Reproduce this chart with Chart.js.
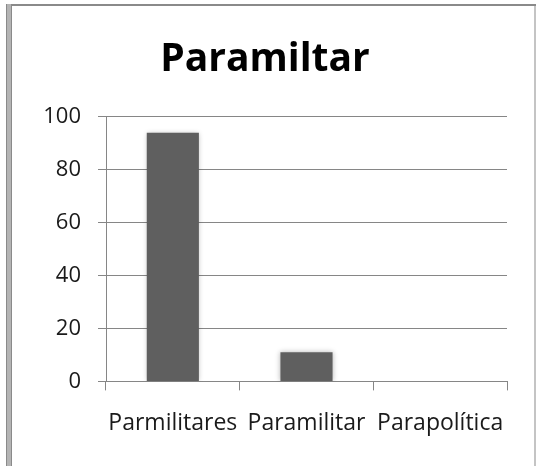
<!DOCTYPE html>
<html>
<head>
<meta charset="utf-8">
<script src="https://cdn.jsdelivr.net/npm/chart.js@4/dist/chart.umd.min.js"></script>
<style>
  html, body { margin: 0; padding: 0; background: #fff; }
  #wrap { position: relative; width: 537px; height: 466px; overflow: hidden; }
  #chart { position: absolute; left: 0; top: 0; }
  .edge-top { position: absolute; left: 6px; top: 4px; width: 530px; height: 2px; background: #8a8a8a; }
  .edge-left { position: absolute; left: 6px; top: 4px; width: 4px; height: 462px;
               border-left: 1px solid #8a8a8a; border-right: 1px solid #8a8a8a; background: #b4b4b4; }
  .edge-right { position: absolute; left: 534px; top: 6px; width: 2px; height: 460px; background: #c4c4c4; }
</style>
</head>
<body>
<div id="wrap">
  <canvas id="chart" width="537" height="466"></canvas>
  <div class="edge-top"></div>
  <div class="edge-left"></div>
  <div class="edge-right"></div>
</div>
<script>
(function () {
  'use strict';

  const chartTitle = 'Paramiltar';
  const categories = ['Parmilitares', 'Paramilitar', 'Parapolítica'];
  const counts = [94, 11, 0];
  const yTicks = [0, 20, 40, 60, 80, 100];

  const barColor = '#5f5f5f';
  const lineColor = '#868686';
  const textColor = '#1a1a1a';
  const fontFamily = '"Open Sans", "DejaVu Sans", sans-serif';

  // soft glow around the columns
  const barShadow = {
    id: 'barShadow',
    beforeDatasetDraw(chart) {
      const ctx = chart.ctx;
      ctx.save();
      ctx.shadowColor = 'rgba(0, 0, 0, 0.28)';
      ctx.shadowBlur = 5;
      ctx.shadowOffsetX = 0;
      ctx.shadowOffsetY = 0;
    },
    afterDatasetDraw(chart) {
      chart.ctx.restore();
    }
  };

  const ctx = document.getElementById('chart');

  new Chart(ctx, {
    type: 'bar',
    data: {
      labels: categories,
      datasets: [{
        data: counts,
        backgroundColor: barColor,
        borderWidth: 0,
        barPercentage: 0.39,
        categoryPercentage: 1
      }]
    },
    options: {
      responsive: false,
      animation: false,
      layout: {
        padding: { left: 23, right: 30, top: 0, bottom: 10 }
      },
      scales: {
        x: {
          grid: {
            display: true,
            drawOnChartArea: false,
            drawTicks: true,
            tickLength: 9,
            color: lineColor,
            offset: true
          },
          border: { display: true, color: lineColor, width: 1 },
          ticks: {
            color: textColor,
            padding: 19,
            maxRotation: 0,
            autoSkip: false,
            font: { family: fontFamily, size: 23 }
          }
        },
        y: {
          min: 0,
          max: 100,
          afterBuildTicks(scale) {
            scale.ticks = yTicks.map(v => ({ value: v }));
          },
          afterFit(scale) {
            scale.width = 83;
          },
          grid: {
            color: lineColor,
            drawTicks: true,
            tickLength: 8
          },
          border: { display: true, color: lineColor, width: 1 },
          ticks: {
            color: textColor,
            padding: 17,
            font: { family: fontFamily, size: 22 }
          }
        }
      },
      plugins: {
        legend: { display: false },
        tooltip: { enabled: false },
        title: {
          display: true,
          text: chartTitle,
          color: '#000',
          font: { family: fontFamily, size: 39, weight: 'bold', lineHeight: 1.2 },
          padding: { top: 36, bottom: 34 }
        }
      }
    },
    plugins: [barShadow]
  });
})();
</script>
</body>
</html>
